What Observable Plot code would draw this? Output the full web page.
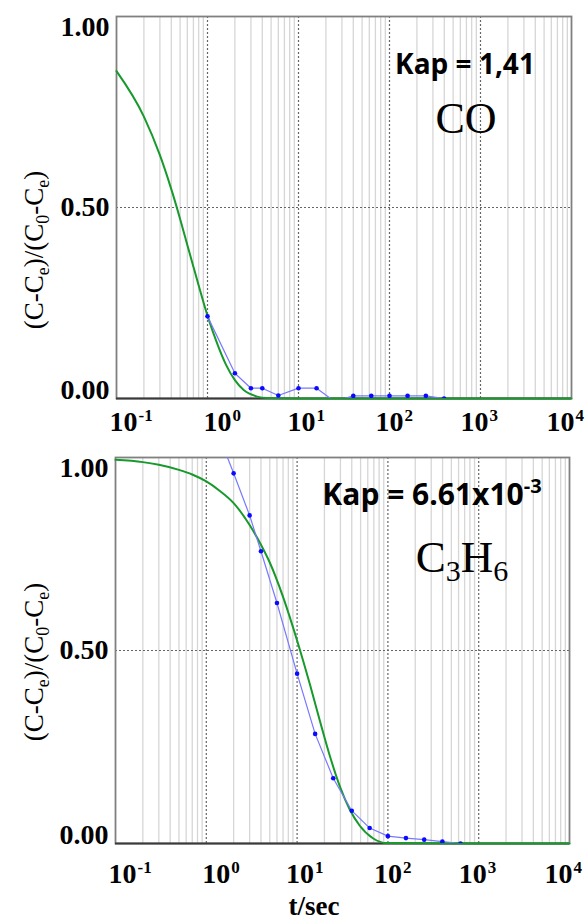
<!DOCTYPE html>
<html><head><meta charset="utf-8">
<script src="https://cdn.jsdelivr.net/npm/d3@7"></script>
<script src="https://cdn.jsdelivr.net/npm/@observablehq/plot@0.6"></script>
<style>
html,body{margin:0;padding:0;background:#fff;}
#wrap{position:relative;width:587px;height:920px;overflow:hidden;background:#fff;}
#top,#bot{position:absolute;left:0;}
#top{top:0;}
#bot{top:430px;}
</style></head>
<body><div id="wrap"><div id="top"></div><div id="bot"></div></div>
<script>
// ---- CO panel data ----
const timeCO = [1, 2, 3, 4, 6, 10, 15.8, 25, 40, 63, 100, 158, 251, 398];
const measCO = [0.215, 0.066, 0.027, 0.027, 0.008, 0.027, 0.027, -0.008, 0.007, 0.007, 0.007, 0.007, 0.007, 0.0];
const fitTimeCO = [0.1, 0.2, 0.3, 0.4, 0.5, 0.6, 0.7, 0.8, 1.0, 1.3, 1.6, 2, 2.5, 3.5, 4.5, 10, 100, 1000, 10000];
const fitCO = [0.857, 0.738, 0.637, 0.548, 0.47, 0.402, 0.345, 0.296, 0.217, 0.139, 0.088, 0.048, 0.022, 0.005, 0.001, 0, 0, 0, 0];

// ---- C3H6 panel data ----
const timeC3H6 = [1, 2, 3, 4, 6, 10, 15.8, 25, 40, 63, 100, 158, 251, 398, 631];
const measC3H6 = [1.14, 0.959, 0.850, 0.757, 0.623, 0.440, 0.284, 0.169, 0.085, 0.040, 0.019, 0.014, 0.010, 0.005, 0.0];
const fitTimeC3H6 = [0.1, 0.2, 0.3, 0.5, 0.7, 1, 1.4, 2, 3, 4, 5, 7, 10, 14, 18, 23, 30, 38, 49, 69, 97, 1000, 10000];
const fitC3H6 = [0.994, 0.988, 0.981, 0.968, 0.956, 0.938, 0.914, 0.882, 0.825, 0.774, 0.728, 0.639, 0.526, 0.408, 0.314, 0.226, 0.144, 0.088, 0.046, 0.013, 0.001, 0, 0];

// ---- axes ----
const decadeTicks = [0.1, 1, 10, 100, 1000, 10000];
const decadeExponents = ["-1", "0", "1", "2", "3", "4"];
const majorGrid = [1, 10, 100, 1000];
const yTicks = [0, 0.5, 1];
const yTickLabels = ["0.00", "0.50", "1.00"];
const yGrid = [0.5];
const minorMultipliers = [2, 3, 4, 5, 6, 7, 8, 9];
const minorTicks = decadeTicks.slice(0, -1).flatMap(d => minorMultipliers.map(m => d * m));

// layout: horizontal nudge of each decade label (px)
const tickNudge = [7, 10, 3, 0, -6, -11];

const serif = "'Liberation Serif', 'Times New Roman', serif";
const sans = "'Open Sans', 'DejaVu Sans', sans-serif";

function panel({time, meas, fitTime, fit, height, marginTop, marginBottom, marginLeft, marginRight, tickDy}) {
  const measured = time.map((t, i) => ({t, v: meas[i]}));
  const fitted = fitTime.map((t, i) => ({t, v: fit[i]}));
  const lab = {fontFamily: serif, fontWeight: "bold", fontSize: 28, fill: "#000"};
  const xLabels = decadeTicks.flatMap((d, i) => [
    Plot.text([d], {x: v => v, frameAnchor: "bottom", text: () => "10", textAnchor: "middle", lineAnchor: "bottom", dx: tickNudge[i], dy: tickDy, ...lab}),
    Plot.text([d], {x: v => v, frameAnchor: "bottom", text: () => decadeExponents[i], textAnchor: "start", lineAnchor: "bottom", dx: tickNudge[i] + 15, dy: tickDy - 10, ...lab, fontSize: 17})
  ]);
  return Plot.plot({
    width: 587, height, marginTop, marginBottom, marginLeft, marginRight,
    x: {type: "log", domain: [0.1, 10000], axis: null},
    y: {domain: [0, 1], axis: null},
    style: {background: "transparent", overflow: "visible"},
    marks: [
      Plot.ruleX(minorTicks, {stroke: "#d6d6d6", strokeWidth: 1.3}),
      Plot.ruleX(majorGrid, {stroke: "#666", strokeWidth: 1.2, strokeDasharray: "2,2"}),
      Plot.ruleY(yGrid, {stroke: "#666", strokeWidth: 1.2, strokeDasharray: "2,2"}),
      Plot.frame({stroke: "#808080", strokeWidth: 1.8}),
      Plot.ruleY([0], {stroke: "#3a3a3a", strokeWidth: 2}),
      Plot.line(fitted, {x: "t", y: "v", stroke: "#17992b", strokeWidth: 2, curve: "monotone-x"}),
      Plot.line(measured, {x: "t", y: "v", stroke: "#7878ff", strokeWidth: 1.2, clip: true}),
      Plot.dot(measured, {x: "t", y: "v", r: 2.3, fill: "#0a0aff", stroke: "none", clip: true}),
      // y tick labels
      Plot.text([yTicks[2]], {y: d => d, frameAnchor: "left", text: () => yTickLabels[2], textAnchor: "end", lineAnchor: "top", dx: -7, ...lab}),
      Plot.text([yTicks[1]], {y: d => d, frameAnchor: "left", text: () => yTickLabels[1], textAnchor: "end", lineAnchor: "middle", dx: -7, ...lab}),
      Plot.text([yTicks[0]], {y: d => d, frameAnchor: "left", text: () => yTickLabels[0], textAnchor: "end", lineAnchor: "bottom", dx: -7, ...lab}),
      ...xLabels
    ]
  });
}

function rich(svg, x, y, parts, base) {
  const t = d3.select(svg).append("text")
    .attr("x", x).attr("y", y)
    .attr("text-anchor", base.anchor || "middle")
    .attr("font-family", base.family)
    .attr("font-weight", base.weight || "normal")
    .attr("font-size", base.size)
    .attr("fill", "#000");
  if (base.transform) t.attr("transform", base.transform).attr("x", 0).attr("y", 0);
  let shift = 0;
  for (const p of parts) {
    const s = p.shift || 0;
    const sp = t.append("tspan").text(p.text).attr("dy", s - shift);
    if (p.size) sp.attr("font-size", p.size);
    shift = s;
  }
  return t;
}

const topPlot = panel({time: timeCO, meas: measCO, fitTime: fitTimeCO, fit: fitCO,
  height: 440, marginTop: 16, marginBottom: 42, marginLeft: 116, marginRight: 16, tickDy: 32});
const botPlot = panel({time: timeC3H6, meas: measC3H6, fitTime: fitTimeC3H6, fit: fitC3H6,
  height: 490, marginTop: 27, marginBottom: 77, marginLeft: 115, marginRight: 18, tickDy: 39});
document.getElementById("top").appendChild(topPlot);
document.getElementById("bot").appendChild(botPlot);

const ylabParts = [
  {text: "(C-C"}, {text: "e", shift: 6, size: 18}, {text: ")/(C"}, {text: "0", shift: 6, size: 18},
  {text: "-C"}, {text: "e", shift: 6, size: 18}, {text: ")"}
];
rich(topPlot, 0, 0, ylabParts, {family: serif, size: 27, transform: "translate(43,250) rotate(-90)"});
rich(botPlot, 0, 0, ylabParts, {family: serif, size: 27, transform: "translate(43,232) rotate(-90)"});

rich(topPlot, 465, 74, [{text: "Kap = 1,41"}], {family: sans, weight: "bold", size: 28});
rich(topPlot, 466, 133, [{text: "CO"}], {family: serif, size: 44});

rich(botPlot, 432, 75, [{text: "Kap = 6.61x10"}, {text: "-3", shift: -12, size: 20}], {family: sans, weight: "bold", size: 30});
rich(botPlot, 462, 142, [{text: "C"}, {text: "3", shift: 9, size: 30}, {text: "H"}, {text: "6", shift: 9, size: 30}], {family: serif, size: 45});

rich(botPlot, 314, 485, [{text: "t/sec"}], {family: serif, weight: "bold", size: 27});
</script>
</body></html>
